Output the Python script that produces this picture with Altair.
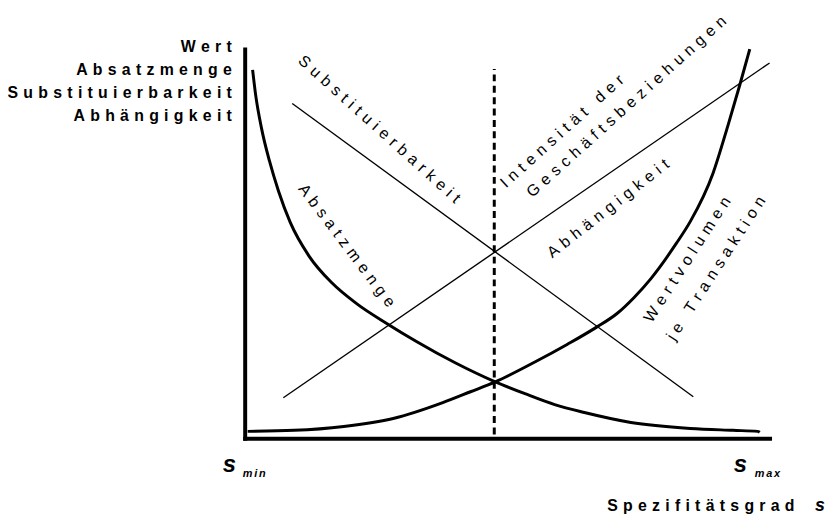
import altair as alt
import pandas as pd

# ---- data (x: Spezifitätsgrad, 0 = s_min ... 100 = s_max; y: Wert, 0..100) ----
absatz_x = [1.51, 2.08, 3.21, 4.72, 6.42, 8.68, 12.26, 16.60, 21.32, 27.36, 32.64, 40.19,
            47.74, 53.40, 59.06, 64.72, 73.58, 84.91, 93.02, 97.74, 98.11]
absatz_y = [94.66, 88.30, 79.64, 71.25, 63.61, 55.47, 46.82, 39.95, 34.61, 29.26, 24.94, 19.34,
            14.50, 11.45, 8.65, 6.62, 4.07, 2.54, 2.04, 1.78, 1.53]

wert_x = [0.57, 9.43, 18.87, 28.30, 37.74, 43.02, 47.74, 55.28, 61.51, 66.98, 70.94, 74.15,
          77.36, 82.26, 84.91, 89.25, 92.08, 94.34, 96.23]
wert_y = [1.78, 2.04, 3.05, 5.09, 9.16, 11.96, 14.50, 19.59, 24.17, 28.50, 32.06, 36.13,
          40.97, 50.13, 55.73, 68.19, 80.41, 90.84, 100.0]

subst_x = [9.06, 85.47]
subst_y = [86.01, 10.69]
abh_x = [7.36, 100.0]
abh_y = [10.43, 96.44]

dash_x = [47.55]
dash_y = [1.0]
dash_y2 = [94.9]

curve_labels = ["Substituierbarkeit", "Absatzmenge", "Intensität der", "Geschäftsbeziehungen",
                "Abhängigkeit", "Wertvolumen", "je Transaktion"]
curve_label_x = [25.66, 19.43, 60.47, 72.74, 69.25, 84.34, 89.81]
curve_label_y = [79.39, 49.49, 78.88, 85.24, 59.03, 45.93, 43.64]
curve_label_angle = [42, 53, 318, 318, 322, 303, 303]

y_title_lines = ["Wert", "Absatzmenge", "Substituierbarkeit", "Abhängigkeit"]
y_title_x = [-2.45, -2.45, -2.45, -2.45]
y_title_y = [99.24, 93.31, 87.35, 81.42]

s_main = ["s", "s"]
s_main_x = [-4.2, 93.2]
s_main_y = [-8.65, -8.65]
s_sub = ["min", "max"]
s_sub_x = [-0.38, 97.17]
s_sub_y = [-9.92, -9.92]

x_title = ["Spezifitätsgrad"]
x_title_x = [69.06]
x_title_y = [-18.58]
x_title_sym = ["s"]
x_title_sym_x = [108.68]
x_title_sym_y = [-18.58]

# ---- helpers ----
SP = "\u2004"    # letter spacing (1/3 em)
SP_S = "\u2006"  # small letter spacing


def spaced(s, sp=SP):
    return sp.join(list(s))


FONT = "Liberation Sans"

curves = pd.concat([
    pd.DataFrame({"x": absatz_x, "y": absatz_y, "series": "Absatzmenge"}),
    pd.DataFrame({"x": wert_x, "y": wert_y, "series": "Wertvolumen je Transaktion"}),
])
straight = pd.concat([
    pd.DataFrame({"x": subst_x, "y": subst_y, "series": "Substituierbarkeit"}),
    pd.DataFrame({"x": abh_x, "y": abh_y, "series": "Abhängigkeit"}),
])
dash = pd.DataFrame({"x": dash_x, "y": dash_y, "y2": dash_y2})
labels = pd.DataFrame({"text": [spaced(t) for t in curve_labels], "x": curve_label_x,
                       "y": curve_label_y, "angle": curve_label_angle})
ytitle = pd.DataFrame({"text": [spaced(t) for t in y_title_lines], "x": y_title_x, "y": y_title_y})
smain = pd.DataFrame({"text": s_main, "x": s_main_x, "y": s_main_y})
ssub = pd.DataFrame({"text": [spaced(t, SP_S) for t in s_sub], "x": s_sub_x, "y": s_sub_y})
xtitle = pd.DataFrame({"text": [spaced(t) for t in x_title], "x": x_title_x, "y": x_title_y})
xsym = pd.DataFrame({"text": x_title_sym, "x": x_title_sym_x, "y": x_title_sym_y})

xs = alt.Scale(domain=[0, 100], nice=False, zero=False)
ys = alt.Scale(domain=[0, 100], nice=False, zero=False)
axis = alt.Axis(domain=True, domainWidth=4, domainColor="black", domainCap="square",
                ticks=False, labels=False, grid=False, title=None)


def X():
    return alt.X("x:Q", scale=xs, axis=axis)


def Y():
    return alt.Y("y:Q", scale=ys, axis=axis)


curve_layer = alt.Chart(curves).mark_line(color="black", strokeWidth=3, interpolate="monotone").encode(
    x=X(), y=Y(), detail="series:N",
)
straight_layer = alt.Chart(straight).mark_line(color="black", strokeWidth=1.4).encode(
    x=X(), y=Y(), detail="series:N",
)
dash_layer = alt.Chart(dash).mark_rule(color="black", strokeWidth=3, strokeDash=[7, 4.5]).encode(
    x=X(), y=Y(), y2="y2:Q",
)
label_layer = alt.Chart(labels).mark_text(font=FONT, fontSize=16, color="black",
                                          align="center", baseline="middle").encode(
    x=X(), y=Y(), text="text:N", angle=alt.Angle("angle:Q", scale=None),
)
ytitle_layer = alt.Chart(ytitle).mark_text(font=FONT, fontSize=16, fontWeight="bold", color="black",
                                           align="right", baseline="alphabetic").encode(
    x=X(), y=Y(), text="text:N",
)
smain_layer = alt.Chart(smain).mark_text(font=FONT, fontSize=24, fontWeight="bold", fontStyle="italic",
                                         color="black", align="left", baseline="alphabetic").encode(
    x=X(), y=Y(), text="text:N",
)
ssub_layer = alt.Chart(ssub).mark_text(font=FONT, fontSize=11, fontWeight="bold", fontStyle="italic",
                                       color="black", align="left", baseline="alphabetic").encode(
    x=X(), y=Y(), text="text:N",
)
xtitle_layer = alt.Chart(xtitle).mark_text(font=FONT, fontSize=16, fontWeight="bold", color="black",
                                           align="left", baseline="alphabetic").encode(
    x=X(), y=Y(), text="text:N",
)
xsym_layer = alt.Chart(xsym).mark_text(font=FONT, fontSize=18, fontWeight="bold", fontStyle="italic",
                                       color="black", align="left", baseline="alphabetic").encode(
    x=X(), y=Y(), text="text:N",
)

chart = alt.layer(
    curve_layer, straight_layer, dash_layer, label_layer, ytitle_layer,
    smain_layer, ssub_layer, xtitle_layer, xsym_layer,
).properties(
    width=530,
    height=393,
    padding={"left": 239, "top": 39, "right": 58, "bottom": 79},
    autosize=alt.AutoSizeParams(type="none"),
    background="white",
).configure_view(stroke=None)

chart.save("out.html", embed_options={"renderer": "svg", "actions": False})
